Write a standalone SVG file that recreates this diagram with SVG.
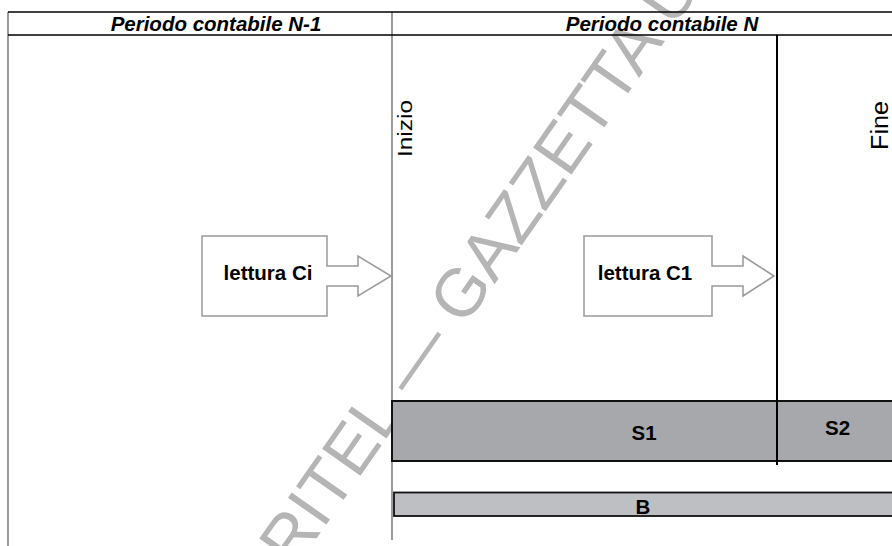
<svg xmlns="http://www.w3.org/2000/svg" width="892" height="546" viewBox="0 0 892 546">
<style>
.wm{font-family:"Liberation Sans",Arial,sans-serif;font-size:68px;fill:#b5b5b5}
.hdr{font-family:"Liberation Sans",Arial,sans-serif;font-size:20.5px;font-weight:bold;font-style:italic;fill:#000;text-anchor:middle}
.bold{font-family:"Liberation Sans",Arial,sans-serif;font-size:20.5px;font-weight:bold;fill:#000;text-anchor:middle}
.vert{font-family:"Liberation Sans",Arial,sans-serif;fill:#000}
.box{fill:#fff;stroke:#999;stroke-width:1.5}
.frame{stroke:#000;stroke-width:1.6;fill:none}
.grid{stroke:#666;stroke-width:1.3;fill:none}
</style>
<rect x="0" y="0" width="892" height="546" fill="#fff"/>
<g id="watermark">
<text class="wm" transform="translate(236,653.5) rotate(-55)">GURITEL — GAZZETTA UFFICIALE</text>
</g>
<g id="connectors">
<line class="grid" x1="8" y1="12" x2="8" y2="546"/>
<line class="grid" x1="392" y1="12" x2="392" y2="540"/>
<line class="frame" x1="8" y1="12" x2="892" y2="12"/>
<line class="frame" x1="8" y1="35" x2="892" y2="35"/>
<line stroke="#000" stroke-width="2" x1="777" y1="35" x2="777" y2="465"/>
</g>
<g id="header-n1">
<text class="hdr" x="216" y="31">Periodo contabile N-1</text>
</g>
<g id="header-n">
<text class="hdr" x="662" y="31">Periodo contabile N</text>
</g>
<g id="inizio">
<text class="vert" font-size="21" textLength="57" lengthAdjust="spacingAndGlyphs" transform="translate(411.5,157) rotate(-90)">Inizio</text>
</g>
<g id="fine">
<text class="vert" font-size="23" textLength="49" lengthAdjust="spacingAndGlyphs" transform="translate(888,150) rotate(-90)">Fine</text>
</g>
<g id="lettura-ci">
<polygon class="box" points="202,236 327,236 327,266 358,266 358,256 391,276 358,296 358,286 327,286 327,316 202,316"/>
<text class="bold" x="268" y="280">lettura Ci</text>
</g>
<g id="lettura-c1">
<polygon class="box" points="584,236 712,236 712,266 743,266 743,256 774,276 743,296 743,286 712,286 712,316 584,316"/>
<text class="bold" x="645" y="280">lettura C1</text>
</g>
<g id="s1">
<rect x="392" y="401" width="385" height="60" fill="#a7a8ab" stroke="#111" stroke-width="2"/>
<text class="bold" x="644" y="440">S1</text>
</g>
<g id="s2">
<rect x="777" y="401" width="120" height="60" fill="#a7a8ab" stroke="#111" stroke-width="2"/>
<text class="bold" x="837.5" y="435">S2</text>
</g>
<line stroke="#000" stroke-width="2" x1="777" y1="398" x2="777" y2="465"/>
<g id="b">
<rect x="394" y="492.5" width="503" height="23.5" fill="#bebfc2" stroke="#111" stroke-width="1.8"/>
<text class="bold" x="643" y="514">B</text>
</g>
</svg>
